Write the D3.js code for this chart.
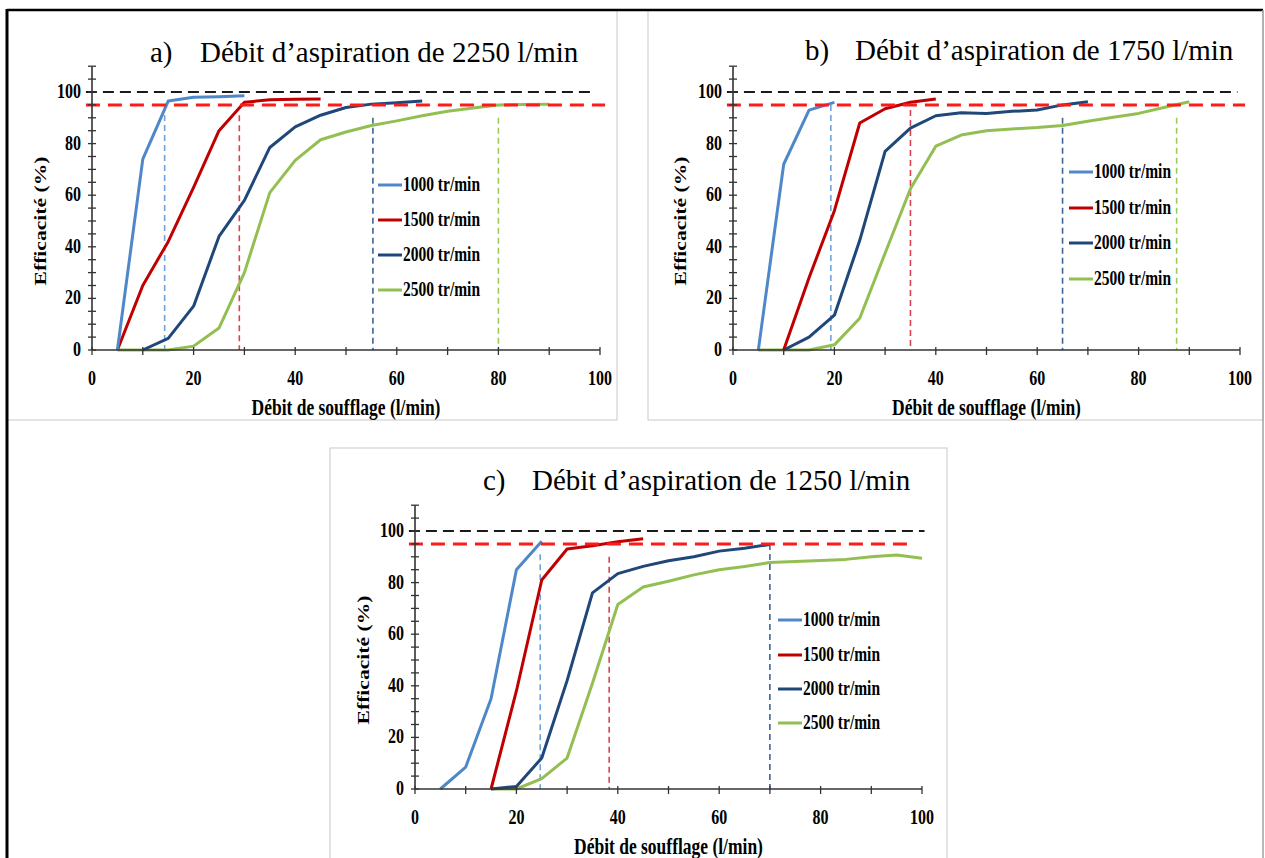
<!DOCTYPE html>
<html><head><meta charset="utf-8">
<script src="https://cdn.jsdelivr.net/npm/d3@7"></script>
<style>html,body{margin:0;padding:0;background:#fff;}svg{display:block;}</style>
</head><body>
<script>
// ---- data ----
const speedLabels = ["1000 tr/min", "1500 tr/min", "2000 tr/min", "2500 tr/min"];
const xTicks = [0, 20, 40, 60, 80, 100];
const yTicks = [0, 20, 40, 60, 80, 100];
const panelTitles = ["Débit d’aspiration de 2250 l/min", "Débit d’aspiration de 1750 l/min", "Débit d’aspiration de 1250 l/min"];
const panelLetters = ["a)", "b)", "c)"];
const xTitle = "Débit de soufflage (l/min)";
const yTitle = "Efficacité (%)";

// panel a : 2250 l/min
const a1000 = [[5,0],[10,74],[15,96.5],[20,98],[25,98.2],[30,98.5]];
const a1500 = [[5,0],[10,25],[15,42],[20,63],[25,85],[30,96],[35,97],[40,97.2],[45,97.3]];
const a2000 = [[10,0],[15,4.5],[20,17],[25,44],[30,58],[35,78.5],[40,86.5],[45,91],[50,94],[55,95.3],[60,95.8],[65,96.5]];
const a2500 = [[5,0],[10,0],[15,0],[20,1.5],[25,8.5],[30,30],[35,61],[40,73.5],[45,81.5],[50,84.5],[55,87],[60,88.8],[65,90.8],[70,92.5],[75,93.8],[80,95],[85,95.2],[90,95.3]];
const aMarkX = [14.3, 29, 55.3, 80];
const aMarkTop = [95, 91, 90, 90];

// panel b : 1750 l/min
const b1000 = [[5,0],[10,72],[15,93],[20,96]];
const b1500 = [[10,0],[15,28],[20,54],[25,88],[30,93.5],[35,96],[40,97.3]];
const b2000 = [[10,0],[15,5],[20,13.5],[25,42.5],[30,77],[35,86],[40,90.8],[45,92],[50,91.7],[55,92.5],[60,93],[65,95],[70,96.2]];
const b2500 = [[5,0],[10,0],[15,0],[20,2],[25,12.3],[30,37.5],[35,62.5],[40,79],[45,83.3],[50,85],[55,85.7],[60,86.2],[65,87],[70,88.7],[75,90.2],[80,91.7],[85,94],[90,96.2]];
const bMarkX = [19.3, 35, 65, 87.5];
const bMarkTop = [95, 93, 90, 90];

// panel c : 1250 l/min
const c1000 = [[5,0],[10,8.5],[15,35],[20,85],[25,96]];
const c1500 = [[15,0],[20,38],[25,81],[30,93],[35,94.3],[40,95.8],[45,97]];
const c2000 = [[15,0],[20,1],[25,12],[30,42],[35,76],[40,83.5],[45,86.3],[50,88.5],[55,90],[60,92.2],[65,93.3],[70,94.8]];
const c2500 = [[15,0],[20,0],[25,4],[30,12],[35,41],[40,71.5],[45,78.3],[50,80.5],[55,83],[60,85],[65,86.2],[70,87.8],[75,88.2],[80,88.6],[85,89],[90,90],[95,90.7],[100,89.4]];
const cMarkX = [24.7, 38.3, 70];
const cMarkTop = [91, 90, 95];

const refTotal = 100;   // black dashed line
const refTarget = 95;   // red dashed line

// ---- styles ----
const lineColors = ["#4f88c9", "#c00000", "#1f477a", "#93bf52"];
const markColors = ["#6fa2dc", "#d9434f", "#3d6596", "#9ccb58"];
const serif = "'Liberation Serif','Times New Roman',serif";
const K = 1.35; // vertical stretch of the source picture

const W = 1265, H = 858;
const svg = d3.select("body").append("svg").attr("width", W).attr("height", H);

// frames
svg.append("rect").attr("x", 7).attr("y", 10).attr("width", 610).attr("height", 410).attr("fill", "none").attr("stroke", "#c8c8c8").attr("stroke-width", 1);
svg.append("rect").attr("x", 648).attr("y", 10).attr("width", 615).attr("height", 410).attr("fill", "none").attr("stroke", "#c8c8c8").attr("stroke-width", 1);
svg.append("rect").attr("x", 330).attr("y", 448).attr("width", 617).attr("height", 420).attr("fill", "none").attr("stroke", "#c8c8c8").attr("stroke-width", 1);
svg.append("line").attr("x1", 7).attr("x2", 1263).attr("y1", 10).attr("y2", 10).attr("stroke", "#000").attr("stroke-width", 2.5);
svg.append("line").attr("x1", 7).attr("x2", 7).attr("y1", 9).attr("y2", H).attr("stroke", "#000").attr("stroke-width", 3);
svg.append("line").attr("x1", 1263).attr("x2", 1263).attr("y1", 10).attr("y2", H).attr("stroke", "#a0a0a0").attr("stroke-width", 1.5);

function stretchedText(g, x, y, txt, size, weight, anchor, k) {
  return g.append("text")
    .attr("transform", `translate(${x},${y}) scale(1,${k})`)
    .attr("text-anchor", anchor)
    .attr("font-family", serif)
    .attr("font-size", size)
    .attr("font-weight", weight)
    .attr("fill", "#000")
    .text(txt);
}

const panels = [
  {x0: 92, x1: 600, y0: 350, series: [a1000, a1500, a2000, a2500], markX: aMarkX, markTop: aMarkTop,
   letterX: 150, titleX: 200, titleY: 62, refEnd: 99, redEnd: 101,
   legX: 378, legY: [185, 220, 255, 290], yLabX: 46, xLabY: 415},
  {x0: 733, x1: 1240, y0: 350, series: [b1000, b1500, b2000, b2500], markX: bMarkX, markTop: bMarkTop,
   letterX: 805, titleX: 855, titleY: 60, refEnd: 99.5, redEnd: 101,
   legX: 1069, legY: [172, 208, 243, 279], yLabX: 686, xLabY: 415},
  {x0: 415, x1: 922, y0: 789, series: [c1000, c1500, c2000, c2500], markX: cMarkX, markTop: cMarkTop,
   letterX: 483, titleX: 532, titleY: 490, refEnd: 100.5, redEnd: 98,
   legX: 778, legY: [620, 655, 689, 723], yLabX: 369, xLabY: 854}
];

panels.forEach((p, pi) => {
  const g = svg.append("g");
  const x = d3.scaleLinear().domain([0, 100]).range([p.x0, p.x1]);
  const y = d3.scaleLinear().domain([0, 110]).range([p.y0, p.y0 - 110 * 2.58]);

  // reference line 100 %
  g.append("line").attr("x1", x(-1.2)).attr("x2", x(p.refEnd)).attr("y1", y(refTotal)).attr("y2", y(refTotal))
    .attr("stroke", "#1a1a1a").attr("stroke-width", 2).attr("stroke-dasharray", "11,6");
  // vertical marks
  p.markX.forEach((mx, i) => {
    g.append("line").attr("x1", x(mx)).attr("x2", x(mx)).attr("y1", y(p.markTop[i])).attr("y2", y(0))
      .attr("stroke", markColors[i]).attr("stroke-width", 1.6).attr("stroke-dasharray", "6,4");
  });

  // series
  const line = d3.line().x(d => x(d[0])).y(d => y(d[1]));
  [3, 2, 1, 0].forEach(i => {
    g.append("path").datum(p.series[i]).attr("d", line).attr("fill", "none")
      .attr("stroke", lineColors[i]).attr("stroke-width", 3).attr("stroke-linejoin", "round");
  });

  // reference line 95 %
  g.append("line").attr("x1", x(-1.2)).attr("x2", x(p.redEnd)).attr("y1", y(refTarget)).attr("y2", y(refTarget))
    .attr("stroke", "#ff1a1a").attr("stroke-width", 3).attr("stroke-dasharray", "14,8");

  // axes
  const axisColor = "#333";
  g.append("line").attr("x1", x(0)).attr("x2", x(0)).attr("y1", y(0)).attr("y2", y(110)).attr("stroke", axisColor).attr("stroke-width", 1.6);
  g.append("line").attr("x1", x(0)).attr("x2", x(100)).attr("y1", y(0)).attr("y2", y(0)).attr("stroke", axisColor).attr("stroke-width", 1.6);
  y.ticks(22).forEach(v => {
    g.append("line").attr("x1", x(0) - 4).attr("x2", x(0) + 4).attr("y1", y(v)).attr("y2", y(v)).attr("stroke", axisColor).attr("stroke-width", 1.3);
  });
  x.ticks(10).forEach(v => {
    g.append("line").attr("x1", x(v)).attr("x2", x(v)).attr("y1", y(0) - 3).attr("y2", y(0) + 5).attr("stroke", axisColor).attr("stroke-width", 1.3);
  });
  yTicks.forEach(v => stretchedText(g, x(0) - 11, y(v) + 6, String(v), 16, "bold", "end", K));
  xTicks.forEach(v => stretchedText(g, x(v), y(0) + 35, String(v), 16, "bold", "middle", K));

  // axis titles
  stretchedText(g, (p.x0 + p.x1) / 2, p.xLabY, xTitle, 17.5, "bold", "middle", K);
  g.append("text")
    .attr("transform", `translate(${p.yLabX},${y(50)}) scale(1,${K}) rotate(-90)`)
    .attr("text-anchor", "middle").attr("font-family", serif).attr("font-size", 16).attr("font-weight", "bold")
    .text(yTitle);

  // title
  stretchedText(g, p.letterX, p.titleY, panelLetters[pi], 29, "normal", "start", 1.05);
  stretchedText(g, p.titleX, p.titleY, panelTitles[pi], 29, "normal", "start", 1.05);

  // legend
  speedLabels.forEach((lab, i) => {
    const ly = p.legY[i];
    g.append("line").attr("x1", p.legX).attr("x2", p.legX + 24).attr("y1", ly).attr("y2", ly)
      .attr("stroke", lineColors[i]).attr("stroke-width", 3);
    stretchedText(g, p.legX + 25, ly + 5.5, lab, 15.5, "bold", "start", K);
  });
});
</script>
</body></html>
